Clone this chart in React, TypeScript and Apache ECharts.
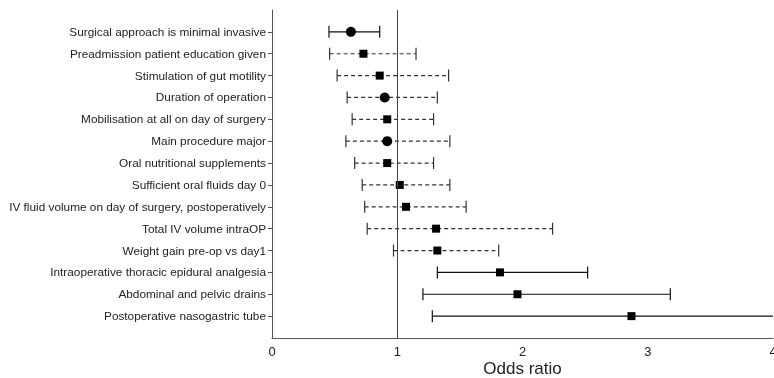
import React, { useEffect, useRef } from "react";
import * as echarts from "echarts";

const categories = [
  "Surgical approach is minimal invasive",
  "Preadmission patient education given",
  "Stimulation of gut motility",
  "Duration of operation",
  "Mobilisation at all on day of surgery",
  "Main procedure major",
  "Oral nutritional supplements",
  "Sufficient oral fluids day 0",
  "IV fluid volume on day of surgery, postoperatively",
  "Total IV volume intraOP",
  "Weight gain pre-op vs day1",
  "Intraoperative thoracic epidural analgesia",
  "Abdominal and pelvic drains",
  "Postoperative nasogastric tube",
];
const oddsRatio = [0.63, 0.73, 0.86, 0.9, 0.92, 0.92, 0.92, 1.02, 1.07, 1.31, 1.32, 1.82, 1.96, 2.87];
const lowerCI = [0.455, 0.46, 0.52, 0.6, 0.64, 0.59, 0.66, 0.72, 0.74, 0.76, 0.97, 1.32, 1.205, 1.28];
const upperCI = [0.86, 1.15, 1.41, 1.32, 1.29, 1.42, 1.29, 1.42, 1.55, 2.24, 1.81, 2.52, 3.18, 4.6];
const circleRows = [0, 3, 5];
const solidRows = [0, 11, 12, 13];
const xTicks = [0, 1, 2, 3, 4];

const FONT = "'Liberation Sans', Arial, Helvetica, sans-serif";

export default function App() {
  const ref = useRef<HTMLDivElement>(null);
  useEffect(() => {
    if (!ref.current) return;
    const chart = echarts.init(ref.current, null, { renderer: "svg" });
    const xMax = xTicks[xTicks.length - 1];
    const data = categories.map((_, i) => [i + 1, lowerCI[i], oddsRatio[i], upperCI[i], i]);
    const rowValues = categories.map((_, i) => i + 1);
    chart.setOption({
      animation: false,
      grid: { left: 272, right: 1, top: 10, bottom: 40, containLabel: false, outerBoundsMode: "none" },
      xAxis: {
        type: "value",
        min: xTicks[0],
        max: xMax,
        interval: 1,
        name: "Odds ratio",
        nameLocation: "middle",
        nameGap: 22,
        nameMoveOverlap: false,
        nameTextStyle: { fontFamily: FONT, fontSize: 17, color: "#222", lineHeight: 17 },
        axisLine: { show: true, onZero: false, lineStyle: { color: "#555", width: 1 } },
        axisTick: { show: false },
        splitLine: { show: false },
        axisLabel: { fontFamily: FONT, fontSize: 13, color: "#222", margin: 7, showMaxLabel: true, showMinLabel: true },
      },
      yAxis: {
        type: "value",
        min: 0,
        max: categories.length + 1,
        inverse: true,
        axisLine: { show: true, onZero: false, lineStyle: { color: "#555", width: 1 } },
        axisTick: { show: true, length: 4, customValues: rowValues, lineStyle: { color: "#555" } },
        splitLine: { show: false },
        axisLabel: {
          customValues: rowValues,
          fontFamily: FONT,
          fontSize: 11.8,
          color: "#222",
          margin: 6,
          formatter: (v: number) => categories[Math.round(v) - 1] ?? "",
        },
      },
      series: [
        {
          type: "custom",
          data,
          clip: false,
          renderItem: (params: any, api: any) => {
            const y = api.value(0);
            const lo = api.value(1);
            const est = api.value(2);
            const hi = api.value(3);
            const idx = api.value(4);
            const solid = solidRows.includes(idx);
            const color = solid ? "#111" : "#333";
            const pLo = api.coord([lo, y]);
            const pHi = api.coord([Math.min(hi, xMax), y]);
            const pEst = api.coord([est, y]);
            const lineStyle = {
              stroke: color,
              lineWidth: 1.2,
              lineDash: solid ? null : [4, 3],
            };
            const children: any[] = [
              { type: "line", shape: { x1: pLo[0], y1: pLo[1], x2: pHi[0], y2: pHi[1] }, style: lineStyle },
              { type: "line", shape: { x1: pLo[0], y1: pLo[1] - 6, x2: pLo[0], y2: pLo[1] + 6 }, style: { stroke: color, lineWidth: 1.2 } },
            ];
            if (hi <= xMax) {
              children.push({ type: "line", shape: { x1: pHi[0], y1: pHi[1] - 6, x2: pHi[0], y2: pHi[1] + 6 }, style: { stroke: color, lineWidth: 1.2 } });
            }
            if (circleRows.includes(idx)) {
              children.push({ type: "circle", shape: { cx: pEst[0], cy: pEst[1], r: 5 }, style: { fill: "#000" } });
            } else {
              children.push({ type: "rect", shape: { x: pEst[0] - 4, y: pEst[1] - 4, width: 8, height: 8 }, style: { fill: "#000" } });
            }
            return { type: "group", children };
          },
          markLine: {
            silent: true,
            symbol: "none",
            label: { show: false },
            lineStyle: { color: "#444", width: 1, type: "solid" },
            data: [{ xAxis: 1 }],
          },
          z: 3,
        },
      ],
    });
    return () => chart.dispose();
  }, []);
  return <div ref={ref} style={{ position: "fixed", left: 0, top: 0, width: 774, height: 378 }} />;
}
